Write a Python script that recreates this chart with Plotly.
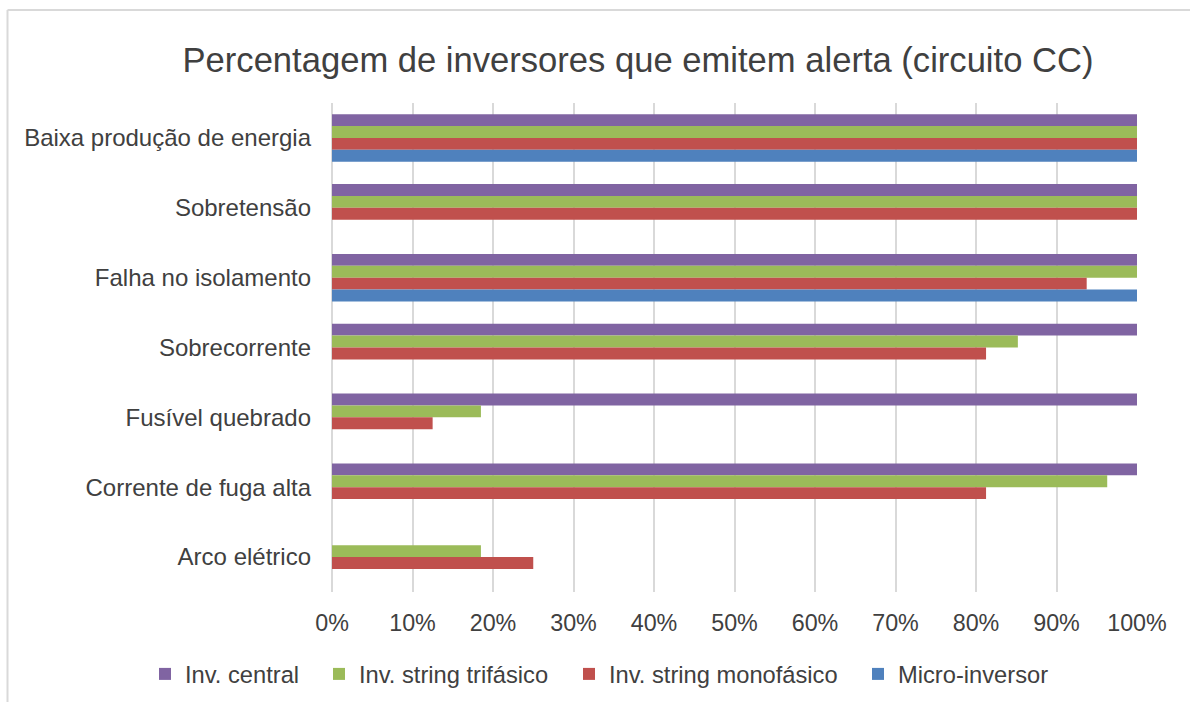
import plotly.graph_objects as go

# Alert categories (top to bottom) and share of inverters per type (%)
categories = [
    "Baixa produção de energia",
    "Sobretensão",
    "Falha no isolamento",
    "Sobrecorrente",
    "Fusível quebrado",
    "Corrente de fuga alta",
    "Arco elétrico",
]
inv_central = [100, 100, 100, 100, 100, 100, None]
inv_string_trifasico = [100, 100, 100, 85.2, 18.5, 96.3, 18.5]
inv_string_monofasico = [100, 100, 93.75, 81.25, 12.5, 81.25, 25]
micro_inversor = [100, None, 100, None, None, None, None]

x_ticks = list(range(0, 101, 10))
x_tick_labels = ["0%", "10%", "20%", "30%", "40%", "50%",
                 "60%", "70%", "80%", "90%", "100%"]

series = [
    ("Inv. central", inv_central, "#8064A2"),
    ("Inv. string trifásico", inv_string_trifasico, "#9BBB59"),
    ("Inv. string monofásico", inv_string_monofasico, "#C0504D"),
    ("Micro-inversor", micro_inversor, "#4F81BD"),
]

# Page geometry in pixels
W, H = 1190, 702
L, R, T, B = 332, 53, 103, 110
PW, PH = W - L - R, H - T - B


def px_x(x):
    return (x - L) / PW


def px_y(y):
    return (H - B - y) / PH


FONT = "Liberation Sans, Arial, sans-serif"
TXT = "#404040"

fig = go.Figure()
legend_ids = ["legend", "legend2", "legend3", "legend4"]
for (name, vals, color), lg in zip(series, legend_ids):
    fig.add_trace(go.Bar(
        y=categories, x=vals, name=name, orientation="h",
        marker=dict(color=color, line=dict(width=0)),
        legend=lg, showlegend=True, hoverinfo="x+name",
    ))

# one legend box per series, laid out in a single row under the axis
legend_text_x = [183, 357, 607, 896]
legend_layouts = {}
for lg, tx in zip(legend_ids, legend_text_x):
    legend_layouts[lg] = dict(
        x=px_x(tx - 38), xanchor="left",
        y=px_y(674), yanchor="middle",
        orientation="h", bgcolor="rgba(0,0,0,0)", borderwidth=0,
        font=dict(family=FONT, size=23.7, color=TXT),
        itemclick=False, itemdoubleclick=False, visible=True,
    )

fig.update_layout(
    width=W, height=H,
    margin=dict(l=L, r=R, t=T, b=B, autoexpand=False),
    paper_bgcolor="white", plot_bgcolor="white",
    showlegend=True,
    barmode="group", bargap=0.32, bargroupgap=0,
    title=dict(
        text="Percentagem de inversores que emitem alerta (circuito CC)",
        x=px_x(638), xref="paper", xanchor="center",
        y=1 - 60 / H, yref="container", yanchor="middle",
        font=dict(family=FONT, size=34.6, color=TXT),
    ),
    xaxis=dict(
        range=[0, 100], tickmode="array",
        tickvals=x_ticks, ticktext=x_tick_labels,
        showgrid=True, gridcolor="#D9D9D9", gridwidth=2,
        zeroline=True, zerolinecolor="#D9D9D9", zerolinewidth=2,
        showline=False, ticks="", ticklabelstandoff=15,
        tickfont=dict(family=FONT, size=23.3, color=TXT),
        fixedrange=True,
    ),
    yaxis=dict(
        autorange="reversed", type="category",
        showgrid=False, zeroline=False, showline=False, ticks="",
        ticklabelstandoff=20,
        tickfont=dict(family=FONT, size=24, color=TXT),
        fixedrange=True,
    ),
    shapes=[
        dict(type="line", xref="paper", yref="paper",
             x0=px_x(7.5), x1=px_x(W + 5), y0=px_y(10), y1=px_y(10),
             line=dict(color="#D9D9D9", width=2), layer="below"),
        dict(type="line", xref="paper", yref="paper",
             x0=px_x(7.5), x1=px_x(7.5), y0=px_y(10), y1=px_y(H + 5),
             line=dict(color="#D9D9D9", width=2), layer="below"),
    ],
    **legend_layouts,
)

fig.write_html("out.html")
